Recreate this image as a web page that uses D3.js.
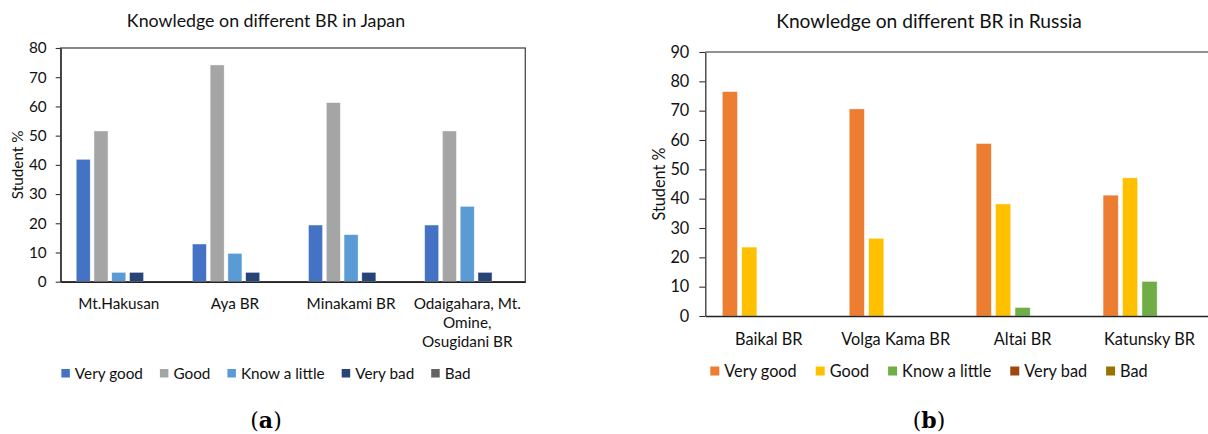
<!DOCTYPE html>
<html>
<head>
<meta charset="utf-8">
<script src="https://cdn.jsdelivr.net/npm/d3@7"></script>
<style>
  body { margin: 0; background: #fff; }
  svg { display: block; }
  text { font-family: Lato, "Open Sans", sans-serif; fill: #111; }
</style>
</head>
<body>
<svg id="fig" width="1208" height="434"></svg>
<script>
// Answer levels shared by both panels
const seriesNames = ["Very good", "Good", "Know a little", "Very bad", "Bad"];

// Panel (a): Japan
const japanSites = ["Mt.Hakusan", "Aya BR", "Minakami BR", "Odaigahara, Mt. Omine, Osugidani BR"];
const japanSiteLines = [["Mt.Hakusan"], ["Aya BR"], ["Minakami BR"], ["Odaigahara, Mt.", "Omine,", "Osugidani BR"]];
const japanVeryGood = [41.9, 12.9, 19.4, 19.4];
const japanGood = [51.6, 74.2, 61.3, 51.6];
const japanKnowLittle = [3.2, 9.7, 16.1, 25.8];
const japanVeryBad = [3.2, 3.2, 3.2, 3.2];
const japanBad = [0, 0, 0, 0];
const japanTicks = [0, 10, 20, 30, 40, 50, 60, 70, 80];
const japanColors = ["#4472C4", "#A5A5A5", "#5B9BD5", "#264478", "#636363"];

// Panel (b): Russia
const russiaSites = ["Baikal BR", "Volga Kama BR", "Altai BR", "Katunsky BR"];
const russiaSiteLines = [["Baikal BR"], ["Volga Kama BR"], ["Altai BR"], ["Katunsky BR"]];
const russiaVeryGood = [76.5, 70.6, 58.8, 41.2];
const russiaGood = [23.5, 26.5, 38.2, 47.1];
const russiaKnowLittle = [0, 0, 2.9, 11.8];
const russiaVeryBad = [0, 0, 0, 0];
const russiaBad = [0, 0, 0, 0];
const russiaTicks = [0, 10, 20, 30, 40, 50, 60, 70, 80, 90];
const russiaColors = ["#ED7D31", "#FFC000", "#70AD47", "#9E480E", "#997300"];

const svg = d3.select("#fig");

function drawPanel(cfg) {
  const g = svg.append("g");
  const fs = cfg.fontSize;

  const x0 = d3.scaleBand().domain(cfg.sites).range([cfg.left, cfg.right]);
  const x1 = d3.scaleBand().domain(seriesNames)
    .range([cfg.groupPad, x0.bandwidth() - cfg.groupPad])
    .paddingInner(cfg.barGap);
  const y = d3.scaleLinear().domain([0, cfg.yMax]).range([cfg.bottom, cfg.top]);

  // frame
  if (cfg.fullBox) {
    g.append("rect")
      .attr("x", cfg.left).attr("y", cfg.top)
      .attr("width", cfg.right - cfg.left).attr("height", cfg.bottom - cfg.top)
      .attr("fill", "none").attr("stroke", "#4a4a4a").attr("stroke-width", 1.3);
  } else {
    g.append("line")
      .attr("x1", cfg.left).attr("x2", cfg.right)
      .attr("y1", cfg.top).attr("y2", cfg.top)
      .attr("stroke", "#6e6e6e").attr("stroke-width", 1.3);
  }

  // bars
  const values = cfg.values;
  seriesNames.forEach((s, i) => {
    g.append("g").selectAll("rect")
      .data(values[i].map((v, j) => ({ site: cfg.sites[j], v })))
      .join("rect")
      .attr("x", d => x0(d.site) + x1(s))
      .attr("y", d => y(d.v))
      .attr("width", x1.bandwidth())
      .attr("height", d => cfg.bottom - y(d.v))
      .attr("fill", cfg.colors[i])
      .attr("stroke", "rgba(255,255,255,0.7)")
      .attr("stroke-width", 0.6)
      .attr("display", d => d.v > 0 ? null : "none");
  });

  // y axis
  const ya = g.append("g")
    .attr("transform", `translate(${cfg.left},0)`)
    .call(d3.axisLeft(y).tickValues(cfg.ticks).tickSize(cfg.tickLen).tickPadding(cfg.tickPad).tickSizeOuter(0));
  ya.select(".domain").attr("stroke", "#333").attr("stroke-width", 1.3);
  ya.selectAll(".tick line").attr("stroke", "#333").attr("stroke-width", 1.1);
  ya.selectAll(".tick text").attr("font-size", fs).attr("font-family", "Lato, sans-serif").attr("fill", "#111");

  // x axis
  const xa = g.append("g")
    .attr("transform", `translate(0,${cfg.bottom})`)
    .call(d3.axisBottom(x0).tickSize(0).tickPadding(0).tickSizeOuter(0));
  xa.select(".domain").attr("stroke", "#222").attr("stroke-width", 1.6);
  xa.selectAll(".tick text")
    .attr("font-size", fs).attr("font-family", "Lato, sans-serif").attr("fill", "#111")
    .attr("dy", null).attr("y", 0)
    .each(function (d, i) {
      const t = d3.select(this);
      t.text(null);
      cfg.siteLines[i].forEach((line, k) => {
        t.append("tspan").attr("x", 0).attr("y", cfg.catBaseline + k * cfg.lineH).text(line);
      });
    });

  // y label
  g.append("text")
    .attr("transform", `translate(${cfg.yLabelX},${(cfg.top + cfg.bottom) / 2}) rotate(-90)`)
    .attr("text-anchor", "middle").attr("dominant-baseline", "central")
    .attr("font-size", fs).text("Student %");

  // title
  g.append("text")
    .attr("x", cfg.center).attr("y", cfg.titleY)
    .attr("text-anchor", "middle").attr("font-size", cfg.titleSize)
    .text(cfg.title);

  // legend, laid out in a centered row
  const lg = g.append("g");
  let cx = 0;
  seriesNames.forEach((s, i) => {
    const item = lg.append("g").attr("transform", `translate(${cx},0)`);
    item.append("rect")
      .attr("x", 0).attr("y", -cfg.sw - 1.5)
      .attr("width", cfg.sw).attr("height", cfg.sw)
      .attr("fill", cfg.colors[i]);
    const t = item.append("text").attr("x", cfg.sw + 5).attr("y", 0)
      .attr("font-size", fs).text(s);
    cx += cfg.sw + 5 + t.node().getComputedTextLength() + cfg.legendGap;
  });
  const lw = cx - cfg.legendGap;
  lg.attr("transform", `translate(${cfg.center - lw / 2},${cfg.legendY})`);

  // panel label
  const pl = g.append("text")
    .attr("x", cfg.center).attr("y", cfg.panelY)
    .attr("text-anchor", "middle")
    .attr("font-size", 22);
  pl.append("tspan").style("font-family", "'DejaVu Serif', serif").attr("fill", "#000").text("(");
  pl.append("tspan").style("font-family", "'DejaVu Serif', serif").attr("font-weight", "bold").attr("fill", "#000").text(cfg.panelLetter);
  pl.append("tspan").style("font-family", "'DejaVu Serif', serif").attr("fill", "#000").text(")");
}

drawPanel({
  sites: japanSites, siteLines: japanSiteLines,
  values: [japanVeryGood, japanGood, japanKnowLittle, japanVeryBad, japanBad],
  colors: japanColors, ticks: japanTicks, yMax: 80,
  left: 60.7, right: 525.3, top: 48, bottom: 281.7,
  groupPad: 15.5, barGap: 0.21, fullBox: true,
  fontSize: 15.3, titleSize: 17.8, tickLen: 5, tickPad: 9,
  catBaseline: 27, lineH: 19,
  yLabelX: 17, center: 266, titleY: 27,
  sw: 8.5, legendGap: 17, legendY: 379,
  panelY: 428, panelLetter: "a",
  title: "Knowledge on different BR in Japan"
});

drawPanel({
  sites: russiaSites, siteLines: russiaSiteLines,
  values: [russiaVeryGood, russiaGood, russiaKnowLittle, russiaVeryBad, russiaBad],
  colors: russiaColors, ticks: russiaTicks, yMax: 90,
  left: 705.3, right: 1213, top: 52, bottom: 316,
  groupPad: 17, barGap: 0.22, fullBox: false,
  fontSize: 16.3, titleSize: 19.2, tickLen: 6, tickPad: 10,
  catBaseline: 29, lineH: 20,
  yLabelX: 658, center: 929, titleY: 28,
  sw: 9, legendGap: 19, legendY: 377,
  panelY: 428, panelLetter: "b",
  title: "Knowledge on different BR in Russia"
});
</script>
</body>
</html>
